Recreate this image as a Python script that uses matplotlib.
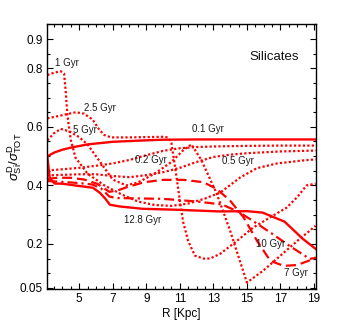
import matplotlib
matplotlib.use("Agg")
import matplotlib.pyplot as plt
from matplotlib.ticker import MultipleLocator

plt.rcParams['font.family'] = ['Liberation Sans', 'DejaVu Sans']
plt.rcParams['mathtext.fontset'] = 'custom'
plt.rcParams['mathtext.rm'] = 'Liberation Sans'
plt.rcParams['mathtext.it'] = 'Liberation Sans:italic'

# ---- data (R in kpc, ratio sigma_Si/sigma_TOT) ----
x_01 = [3.1, 3.5, 4.0, 4.5, 5.5, 7.0, 9.0, 10.0, 12.0, 15.0, 19.1]
y_01 = [0.499, 0.512, 0.522, 0.529, 0.540, 0.549, 0.554, 0.556, 0.557, 0.557, 0.557]

x_02 = [3.1, 4, 5, 6, 7, 8, 9, 10, 11, 12, 13, 15, 17, 19.1]
y_02 = [0.451, 0.455, 0.46, 0.467, 0.475, 0.487, 0.503, 0.518, 0.527, 0.531, 0.533, 0.535, 0.536, 0.536]

x_05 = [3.1, 4, 5, 6, 7, 8, 9, 10, 11, 12, 13, 14, 15, 17, 19.1]
y_05 = [0.434, 0.436, 0.438, 0.438, 0.432, 0.428, 0.435, 0.445, 0.46, 0.48, 0.497, 0.505, 0.51, 0.516, 0.519]

x_1 = [3.1, 3.5, 3.9, 4.1, 4.2, 4.3, 4.5, 4.78, 5.5, 6.5, 7.5, 8.5, 9.5, 10.5, 11.5, 12.5,
       13.4, 14.6, 15.6, 16.8, 18.3, 19.1]
y_1 = [0.777, 0.785, 0.79, 0.782, 0.72, 0.64, 0.555, 0.495, 0.44, 0.40, 0.37, 0.345, 0.333,
       0.33, 0.338, 0.355, 0.375, 0.427, 0.459, 0.475, 0.485, 0.489]

x_25 = [3.1, 4.0, 4.8, 5.3, 5.8, 6.2, 6.5, 6.9, 8.0, 9.0, 10.0, 10.3, 10.5, 10.75, 11.05,
        11.2, 11.5, 11.9, 12.4, 12.8, 13.4, 14.4, 15.35, 16.36, 17.37, 18.0, 18.56, 19.1]
y_25 = [0.629, 0.64, 0.65, 0.645, 0.625, 0.59, 0.572, 0.564, 0.564, 0.565, 0.566, 0.564,
        0.545, 0.45, 0.33, 0.275, 0.21, 0.16, 0.15, 0.15, 0.166, 0.21, 0.255, 0.29, 0.324,
        0.36, 0.40, 0.406]

x_5 = [3.1, 3.5, 3.9, 4.4, 5.0, 5.5, 6.0, 6.5, 7.0, 7.8, 8.5, 9.5, 10.5, 11.2, 11.7, 12.3,
       13.2, 14.0, 15.0, 16.0, 17.0, 18.0, 19.1]
y_5 = [0.554, 0.578, 0.593, 0.585, 0.565, 0.54, 0.50, 0.46, 0.42, 0.40, 0.41, 0.44, 0.48,
       0.52, 0.54, 0.485, 0.372, 0.245, 0.068, 0.11, 0.16, 0.21, 0.262]

x_7 = [3.1, 3.7, 4.5, 5.3, 6.1, 6.8, 7.3, 7.9, 8.9, 10.0, 11.2, 12.4, 13.2, 14.0, 14.8,
       15.6, 16.4, 17.2, 18.0, 18.8, 19.1]
y_7 = [0.422, 0.426, 0.426, 0.420, 0.405, 0.378, 0.383, 0.395, 0.411, 0.419, 0.419, 0.411,
       0.388, 0.348, 0.291, 0.211, 0.142, 0.125, 0.128, 0.145, 0.154]

x_10 = [3.1, 4, 5, 5.8, 6.3, 6.8, 7.2, 8, 10, 12, 13.5, 14.5, 15.35, 16.5, 17.5, 18.74, 19.1]
y_10 = [0.415, 0.412, 0.408, 0.403, 0.39, 0.362, 0.357, 0.356, 0.354, 0.345, 0.335, 0.31,
        0.279, 0.235, 0.195, 0.149, 0.152]

x_128 = [3.1, 3.25, 3.55, 3.97, 4.86, 5.82, 6.23, 6.57, 6.83, 7.42, 8.79, 10.7, 13.38,
         15.0, 15.94, 17.25, 18.32, 19.1]
y_128 = [0.499, 0.423, 0.406, 0.406, 0.399, 0.392, 0.375, 0.354, 0.334, 0.328, 0.320,
         0.317, 0.311, 0.312, 0.307, 0.276, 0.218, 0.183]

labels = ['1 Gyr', '2.5 Gyr', '5 Gyr', '0.1 Gyr', '0.2 Gyr', '0.5 Gyr', '12.8 Gyr', '10 Gyr', '7 Gyr']
label_x = [4.27, 6.24, 5.34, 12.67, 9.27, 14.46, 8.80, 16.42, 17.91]
label_y = [0.818, 0.663, 0.588, 0.591, 0.488, 0.482, 0.283, 0.200, 0.101]

xticks = [5, 7, 9, 11, 13, 15, 17, 19]
yticks = [0.05, 0.2, 0.4, 0.6, 0.8, 0.9]
ytick_labels = ['0.05', '0.2', '0.4', '0.6', '0.8', '0.9']

# ---- figure ----
fig = plt.figure(figsize=(3.49, 3.27), dpi=100)
ax = fig.add_axes([0.1355, 0.1153, 0.769, 0.810])

red = '#ff0000'
dot = (0, (1.0, 1.0))
ax.plot(x_01, y_01, color=red, lw=1.7, ls='-')
ax.plot(x_128, y_128, color=red, lw=1.7, ls='-')
for xs, ys in [(x_02, y_02), (x_05, y_05), (x_1, y_1), (x_25, y_25), (x_5, y_5)]:
    ax.plot(xs, ys, color=red, lw=1.6, ls=dot)
ax.plot(x_7, y_7, color=red, lw=1.6, ls=(0, (4.5, 2.2)))
ax.plot(x_10, y_10, color=red, lw=1.6, ls=(0, (4.5, 1.8, 1.0, 1.8)))

for t, lx, ly in zip(labels, label_x, label_y):
    ax.text(lx, ly, t, fontsize=7, ha='center', va='center', color='#1a1a1a')

ax.text(16.6, 0.838, 'Silicates', fontsize=9.5, ha='center', va='center', color='#111111')

ax.set_xlim(3.1, 19.1)
ax.set_ylim(0.045, 0.95)
ax.set_xticks(xticks)
ax.set_yticks(yticks)
ax.set_yticklabels(ytick_labels)
ax.xaxis.set_minor_locator(MultipleLocator(0.5))
ax.yaxis.set_minor_locator(MultipleLocator(0.05))
ax.tick_params(which='both', direction='in', top=True, right=True, labelsize=8.5, width=0.8)
ax.tick_params(which='major', length=4, pad=3)
ax.tick_params(which='minor', length=2)
for s in ax.spines.values():
    s.set_linewidth(1.0)

ax.set_xlabel('R [Kpc]', fontsize=8.5, labelpad=2)
ax.set_ylabel(r'$\sigma^{\rm D}_{\rm Si}/\sigma^{\rm D}_{\rm TOT}$', fontsize=9.5)
ax.yaxis.set_label_coords(-0.085, 0.5)

fig.savefig('out.png', dpi=100)
